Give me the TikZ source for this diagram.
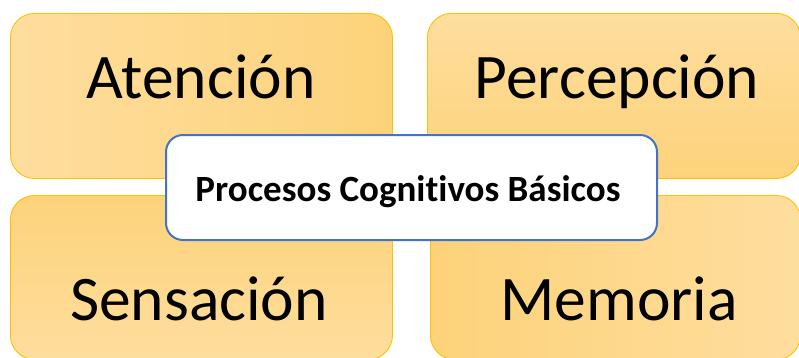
\documentclass[tikz,border=0pt]{standalone}
\usepackage{fontspec}
\setmainfont{Carlito}[Ligatures={CommonOff,ContextualOff}]
\definecolor{oLight}{RGB}{254,222,158}
\definecolor{oDark}{RGB}{253,210,122}
\definecolor{oEdge}{RGB}{255,192,0}
\definecolor{cBlue}{RGB}{68,114,196}
\tikzset{
  obox/.style={draw=oEdge, line width=0.9pt, rounded corners=24pt, anchor=north west, inner sep=0pt},
  lbl/.style={anchor=base, font=\fontsize{63.5}{70}\selectfont, text=black, inner sep=0pt},
  cbox/.style={draw=cBlue, line width=2pt, fill=white, rounded corners=17pt, anchor=north west, inner sep=0pt, minimum width=491pt, minimum height=105pt}
}
\begin{document}
\begin{tikzpicture}[x=1pt,y=-1pt]
\useasboundingbox (0,0) rectangle (799,357);
\node[obox, left color=oLight, right color=oDark, minimum width=382pt, minimum height=165pt] (tl) at (10,13) {};
\node[obox, top color=oLight, bottom color=oDark, minimum width=373pt, minimum height=165pt] (tr) at (427,13) {};
\node[obox, top color=oDark, bottom color=oLight, minimum width=382pt, minimum height=164pt] (bl) at (10,195) {};
\node[obox, left color=oDark, right color=oLight, minimum width=370pt, minimum height=164pt] (br) at (430,195) {};
\node[lbl] (t1) at (201,98) {Atención};
\node[lbl] (t2) at (617,98) {Percepción};
\node[lbl] (t3) at (199,320) {Sensación};
\node[lbl] (t4) at (619,320) {Memoria};
\node[cbox] (c) at (165,134) {};
\node[anchor=base, font=\bfseries\fontsize{37}{44}\selectfont, inner sep=0pt] (ct) at (408,201) {Procesos Cogni\kern0pt tivos Básicos};
\end{tikzpicture}
\end{document}
